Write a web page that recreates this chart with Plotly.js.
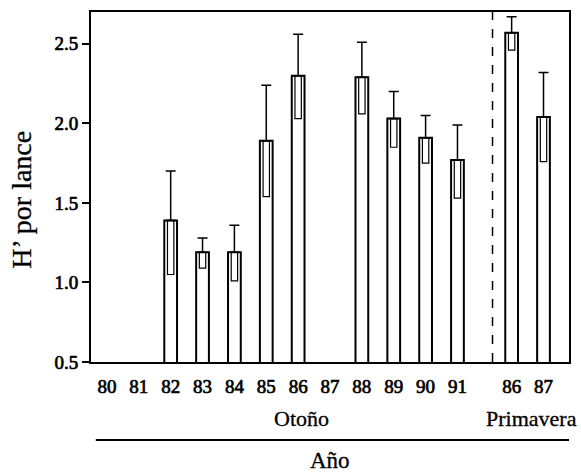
<!DOCTYPE html>
<html>
<head>
<meta charset="utf-8">
<script src="https://cdn.plot.ly/plotly-3.0.1.min.js"></script>
<style>
html,body{margin:0;padding:0;background:#fff;}
#chart{width:581px;height:476px;}
#chart .xtick text, #chart .ytick text{stroke:#000;stroke-width:0.7px;}
#chart .annotation-text{stroke:#000;stroke-width:0.3px;}
</style>
</head>
<body>
<div id="chart"></div>
<script>
// Data
const yearLabels = ['80','81','82','83','84','85','86','87','88','89','90','91','86','87'];
const season     = ['Otoño','Otoño','Otoño','Otoño','Otoño','Otoño','Otoño','Otoño','Otoño','Otoño','Otoño','Otoño','Primavera','Primavera'];
const meanH      = [null, null, 1.39, 1.19, 1.19, 1.89, 2.30, null, 2.29, 2.03, 1.91, 1.77, 2.57, 2.04];
const errUp      = [null, null, 0.31, 0.09, 0.17, 0.35, 0.26, null, 0.22, 0.17, 0.14, 0.22, 0.10, 0.28];
const errDown    = [null, null, 0.34, 0.10, 0.18, 0.35, 0.27, null, 0.23, 0.18, 0.16, 0.24, 0.11, 0.28];
const yTicks     = [0.5, 1.0, 1.5, 2.0, 2.5];

// positions on a numeric axis (layout): autumn slots, then spring after a gap
let aIdx = 0, sIdx = 0;
const xpos = season.map(s => s === 'Otoño' ? (aIdx++) + 0.5 : 13.2 + (sIdx++));
const innerBase = meanH.map((m, i) => m == null ? null : m - errDown[i]);

const FONT = '"Liberation Serif", serif';

const outer = {
  type: 'bar', x: xpos, y: meanH, width: 0.4,
  marker: {color: '#fff', line: {color: '#000', width: 2}},
  error_y: {type: 'data', symmetric: false, array: errUp, arrayminus: errUp.map(() => 0),
            color: '#000', thickness: 1.5, width: 5},
  hoverinfo: 'none', showlegend: false
};
const inner = {
  type: 'bar', x: xpos, y: errDown, base: innerBase, width: 0.2,
  marker: {color: 'rgba(0,0,0,0)', line: {color: '#000', width: 1.2}},
  hoverinfo: 'none', showlegend: false
};

const layout = {
  width: 581, height: 476,
  margin: {l: 91, r: 12, t: 12, b: 114},
  paper_bgcolor: '#fff', plot_bgcolor: '#fff',
  barmode: 'overlay',
  font: {family: FONT, color: '#000'},
  xaxis: {
    range: [0, 15], showgrid: false, zeroline: false,
    showline: true, linecolor: '#000', linewidth: 2, mirror: true,
    tickmode: 'array', tickvals: xpos, ticktext: yearLabels,
    ticks: 'outside', ticklen: 6, tickcolor: 'rgba(0,0,0,0)',
    tickfont: {family: FONT, size: 19, color: '#000'},
    fixedrange: true
  },
  yaxis: {
    range: [0.5, 2.7], showgrid: false, zeroline: false,
    showline: true, linecolor: '#000', linewidth: 2, mirror: true,
    tickmode: 'array', tickvals: yTicks, ticktext: yTicks.map(v => v.toFixed(1)),
    ticks: 'outside', ticklen: 7, tickwidth: 2, tickcolor: '#000',
    tickfont: {family: FONT, size: 19, color: '#000'},
    fixedrange: true
  },
  shapes: [
    {type: 'line', xref: 'x', yref: 'paper', x0: 12.6, x1: 12.6, y0: 0, y1: 1,
     line: {color: '#000', width: 1.5, dash: 'dash'}},
    {type: 'line', xref: 'paper', yref: 'paper', x0: 0.01, x1: 1.0, y0: -0.223, y1: -0.223,
     line: {color: '#000', width: 2}}
  ],
  annotations: [
    {text: 'Otoño', xref: 'x', yref: 'paper', x: 6.6, y: -0.16, xanchor: 'center', yanchor: 'middle',
     showarrow: false, font: {family: FONT, size: 22, color: '#000'}},
    {text: 'Primavera', xref: 'paper', yref: 'paper', x: 1.02, y: -0.16, xanchor: 'right', yanchor: 'middle',
     showarrow: false, font: {family: FONT, size: 22, color: '#000'}},
    {text: 'Año', xref: 'paper', yref: 'paper', x: 0.5, y: -0.282, xanchor: 'center', yanchor: 'middle',
     showarrow: false, font: {family: FONT, size: 23, color: '#000'}},
    {text: 'H’ por lance', xref: 'paper', yref: 'paper', x: -0.145, y: 0.463, xanchor: 'center', yanchor: 'middle',
     textangle: -90, showarrow: false, font: {family: FONT, size: 28, color: '#000'}}
  ]
};

Plotly.newPlot('chart', [outer, inner], layout, {staticPlot: true, displayModeBar: false});
</script>
</body>
</html>
